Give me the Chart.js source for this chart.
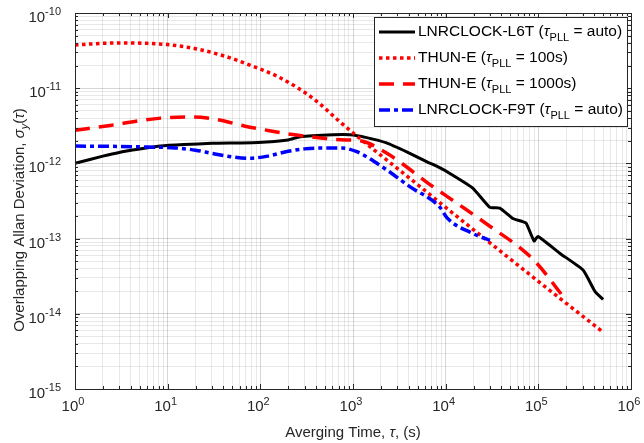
<!DOCTYPE html>
<html>
<head>
<meta charset="utf-8">
<script src="https://cdn.jsdelivr.net/npm/chart.js@4.4.1/dist/chart.umd.min.js"></script>
<style>
  body { margin: 0; background: #fff; }
</style>
</head>
<body>
<canvas id="adevChart" width="644" height="443"></canvas>
<script>
// values (tau in s, overlapping ADEV)
const tauL6T  = [1, 2, 3, 5, 8.4, 15, 30, 95, 200, 268, 610, 930, 1400, 2300, 3800, 6300, 8700, 11000, 19600, 30000, 38400, 53000, 66000, 74000, 90000, 99000, 170000, 305000, 410000, 500000];
const adevL6T = [1.0e-12, 1.25e-12, 1.4e-12, 1.55e-12, 1.7e-12, 1.78e-12, 1.85e-12, 1.9e-12, 2.05e-12, 2.26e-12, 2.4e-12, 2.4e-12, 2.2e-12, 1.87e-12, 1.42e-12, 1.05e-12, 8.7e-13, 7.4e-13, 4.7e-13, 2.6e-13, 2.55e-13, 1.85e-13, 1.7e-13, 1.6e-13, 9.3e-14, 1.07e-13, 6.4e-14, 3.8e-14, 1.97e-14, 1.55e-14];

const tauThun100  = [1, 2, 3.5, 6, 10, 20, 40, 80, 150, 250, 400, 700, 1000, 2000, 5000, 10000, 30000, 100000, 200000, 500000];
const adevThun100 = [3.75e-11, 3.95e-11, 4.0e-11, 3.95e-11, 3.8e-11, 3.35e-11, 2.7e-11, 2.0e-11, 1.45e-11, 1.02e-11, 6.8e-12, 3.7e-12, 2.55e-12, 1.28e-12, 5.2e-13, 2.6e-13, 8.8e-14, 2.7e-14, 1.38e-14, 5.7e-15];

const tauThun1000  = [1, 2.4, 5, 8.4, 19, 35, 67, 130, 235, 500, 820, 1200, 2300, 7300, 13000, 27000, 89000, 200000];
const adevThun1000 = [2.75e-12, 3.2e-12, 3.7e-12, 4.0e-12, 4.15e-12, 3.8e-12, 3.15e-12, 2.7e-12, 2.4e-12, 2.15e-12, 2.05e-12, 2.0e-12, 1.37e-12, 4.9e-13, 3.0e-13, 1.6e-13, 5.2e-14, 1.5e-14];

const tauF9T  = [1, 3, 6, 11, 20, 30, 50, 75, 120, 200, 300, 500, 750, 1100, 2100, 4100, 8700, 10300, 19600, 30000];
const adevF9T = [1.7e-12, 1.68e-12, 1.65e-12, 1.62e-12, 1.5e-12, 1.36e-12, 1.22e-12, 1.17e-12, 1.25e-12, 1.45e-12, 1.56e-12, 1.6e-12, 1.6e-12, 1.43e-12, 8.9e-13, 4.9e-13, 2.6e-13, 1.9e-13, 1.17e-13, 9.5e-14];

const xDecades = [0, 6];
const yDecades = [-15, -10];

const legendNames = ["LNRCLOCK-L6T (", "THUN-E (", "THUN-E (", "LNRCLOCK-F9T ("];
const legendTails = [" = auto)", " = 100s)", " = 1000s)", " = auto)"];

const FONT = '"Liberation Sans", Arial, sans-serif';

function pts(xs, ys) {
  return xs.map((x, i) => ({ x: x, y: ys[i] }));
}

function logTicks(lo, hi) {
  let t = [];
  for (let e = lo; e < hi; e++) {
    for (let m = 1; m < 10; m++) t.push({ value: m * Math.pow(10, e) });
  }
  t.push({ value: Math.pow(10, hi) });
  return t;
}

function isMajor(v) {
  let l = Math.log10(v);
  return Math.abs(l - Math.round(l)) < 1e-6;
}

function gridColor(ctx) {
  if (!ctx.tick) return 'rgba(0,0,0,0.1)';
  return isMajor(ctx.tick.value) ? 'rgba(0,0,0,0.16)' : 'rgba(0,0,0,0.09)';
}

let datasets = [
  { label: "L6T", data: pts(tauL6T, adevL6T), borderColor: "#000000", borderWidth: 3, order: 4, tension: 0.15 },
  { label: "THUN100", data: pts(tauThun100, adevThun100), borderColor: "#ff0000", borderWidth: 3.5, borderDash: [3.5, 3.5], order: 3, cubicInterpolationMode: "monotone" },
  { label: "THUN1000", data: pts(tauThun1000, adevThun1000), borderColor: "#ff0000", borderWidth: 3.5, borderDash: [15, 9], order: 2, cubicInterpolationMode: "monotone" },
  { label: "F9T", data: pts(tauF9T, adevF9T), borderColor: "#0000ff", borderWidth: 3.5, borderDash: [11, 4, 4, 4], order: 1, cubicInterpolationMode: "monotone" }
];
datasets.forEach(d => {
  d.pointRadius = 0;
  d.fill = false;
  d.borderCapStyle = "butt";
});

// text with a sub or superscript part
function drawScript(ctx, parts, x, y) {
  parts.forEach(p => {
    ctx.font = p.font;
    ctx.fillText(p.text, x, y + (p.dy || 0));
    x += ctx.measureText(p.text).width;
  });
  return x;
}
function scriptWidth(ctx, parts) {
  let w = 0;
  parts.forEach(p => { ctx.font = p.font; w += ctx.measureText(p.text).width; });
  return w;
}

const decorPlugin = {
  id: "decor",
  afterDraw(chart) {
    const ctx = chart.ctx;
    const a = chart.chartArea;
    const xs = chart.scales.x, ys = chart.scales.y;
    ctx.save();
    ctx.fillStyle = "#262626";
    ctx.strokeStyle = "#262626";
    ctx.textAlign = "left";
    ctx.textBaseline = "alphabetic";

    // inward tick marks on all four sides
    ctx.lineWidth = 1;
    ctx.beginPath();
    xs.ticks.forEach(t => {
      let px = Math.round(xs.getPixelForValue(t.value)) + 0.5;
      let len = isMajor(t.value) ? 5 : 3;
      ctx.moveTo(px, a.bottom); ctx.lineTo(px, a.bottom - len);
      ctx.moveTo(px, a.top); ctx.lineTo(px, a.top + len);
    });
    ys.ticks.forEach(t => {
      let py = Math.round(ys.getPixelForValue(t.value)) + 0.5;
      let len = isMajor(t.value) ? 5 : 3;
      ctx.moveTo(a.left, py); ctx.lineTo(a.left + len, py);
      ctx.moveTo(a.right, py); ctx.lineTo(a.right - len, py);
    });
    ctx.stroke();
    ctx.strokeRect(Math.round(a.left) + 0.5, Math.round(a.top) + 0.5, Math.round(a.right - a.left), Math.round(a.bottom - a.top));

    // tick labels 10^n
    for (let e = xDecades[0]; e <= xDecades[1]; e++) {
      let px = xs.getPixelForValue(Math.pow(10, e));
      let parts = [{ text: "10", font: "15px " + FONT }, { text: String(e), font: "11px " + FONT, dy: -6 }];
      let w = scriptWidth(ctx, parts);
      drawScript(ctx, parts, px - w / 2 - 2, a.bottom + 22);
    }
    for (let e = yDecades[0]; e <= yDecades[1]; e++) {
      let py = ys.getPixelForValue(Math.pow(10, e));
      let parts = [{ text: "10", font: "15px " + FONT }, { text: String(e), font: "11px " + FONT, dy: -7 }];
      let w = scriptWidth(ctx, parts);
      drawScript(ctx, parts, 61 - w, py + 9);
    }

    // axis titles
    let xt = [
      { text: "Averging Time, ", font: "15px " + FONT },
      { text: "τ", font: "italic 15px " + FONT },
      { text: ", (s)", font: "15px " + FONT }
    ];
    let wx = scriptWidth(ctx, xt);
    drawScript(ctx, xt, (a.left + a.right) / 2 - wx / 2, 437);

    let yt = [
      { text: "Overlapping Allan Deviation, ", font: "15px " + FONT },
      { text: "σ", font: "italic 15px " + FONT },
      { text: "y", font: "italic 11px " + FONT, dy: 4 },
      { text: "(", font: "15px " + FONT },
      { text: "τ", font: "italic 15px " + FONT },
      { text: ")", font: "15px " + FONT }
    ];
    let wy = scriptWidth(ctx, yt);
    ctx.save();
    ctx.translate(24, 220);
    ctx.rotate(-Math.PI / 2);
    drawScript(ctx, yt, -wy / 2, 0);
    ctx.restore();

    // legend box
    const bx = 374, by = 17, bw = 253, bh = 109;
    ctx.fillStyle = "#ffffff";
    ctx.fillRect(bx, by, bw, bh);
    ctx.strokeStyle = "#262626";
    ctx.lineWidth = 1;
    ctx.strokeRect(bx + 0.5, by + 0.5, bw, bh);
    const rowY = [32, 58, 84, 110];
    datasets.forEach((d, i) => {
      ctx.strokeStyle = d.borderColor;
      ctx.lineWidth = d.borderWidth;
      ctx.setLineDash(d.borderDash || []);
      ctx.lineCap = "butt";
      ctx.beginPath();
      ctx.moveTo(379, rowY[i]);
      ctx.lineTo(415, rowY[i]);
      ctx.stroke();
      ctx.setLineDash([]);
      ctx.fillStyle = "#000000";
      drawScript(ctx, [
        { text: legendNames[i], font: "15.5px " + FONT },
        { text: "τ", font: "italic 15.5px " + FONT },
        { text: "PLL", font: "11px " + FONT, dy: 5 },
        { text: legendTails[i], font: "15.5px " + FONT }
      ], 418, rowY[i] + 4);
    });
    ctx.restore();
  }
};

new Chart(document.getElementById("adevChart"), {
  type: "line",
  data: { datasets: datasets },
  options: {
    responsive: false,
    animation: false,
    layout: { padding: { top: 13, right: 13, left: 0, bottom: 0 } },
    plugins: { legend: { display: false }, tooltip: { enabled: false } },
    scales: {
      x: {
        type: "logarithmic",
        min: 1, max: 1e6,
        afterBuildTicks: s => { s.ticks = logTicks(xDecades[0], xDecades[1]); },
        afterFit: s => { s.height = 54; },
        ticks: { display: false },
        border: { display: false },
        grid: { color: gridColor, drawTicks: false, lineWidth: 1 }
      },
      y: {
        type: "logarithmic",
        min: 1e-15, max: 1e-10,
        afterBuildTicks: s => { s.ticks = logTicks(yDecades[0], yDecades[1]); },
        afterFit: s => { s.width = 75; },
        ticks: { display: false },
        border: { display: false },
        grid: { color: gridColor, drawTicks: false, lineWidth: 1 }
      }
    }
  },
  plugins: [decorPlugin]
});
</script>
</body>
</html>
